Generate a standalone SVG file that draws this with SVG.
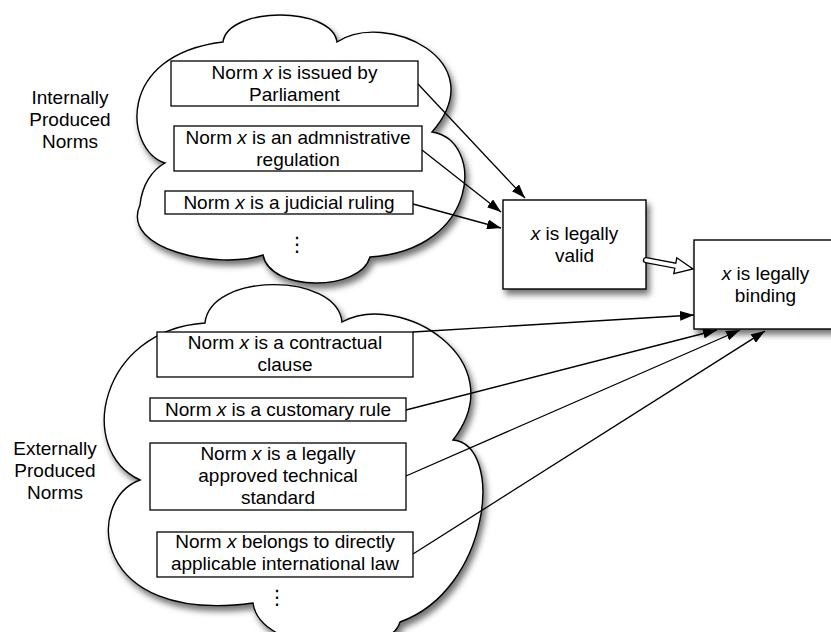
<svg xmlns="http://www.w3.org/2000/svg" width="831" height="632" viewBox="0 0 831 632">
<style>
text{font-family:"Liberation Sans",Arial,Helvetica,sans-serif;font-size:19px;fill:#000;text-anchor:middle}
.it{font-style:italic}
.cloud{fill:#fff;stroke:#000;stroke-width:1.4;filter:url(#sh)}
.box{fill:#fff;stroke:#000;stroke-width:1.3}
.big{fill:#fff;stroke:#000;stroke-width:1.4;filter:url(#sh)}
.conn{fill:none;stroke:#000;stroke-width:1.3;marker-end:url(#ah)}
.dots{font-family:"DejaVu Sans",sans-serif;font-size:20px}
</style>
<defs>
<filter id="sh" x="-20%" y="-20%" width="140%" height="140%">
<feDropShadow dx="3" dy="5" stdDeviation="3" flood-color="#000" flood-opacity="0.55"/>
</filter>
<marker id="ah" markerUnits="userSpaceOnUse" markerWidth="15" markerHeight="10" refX="14" refY="5" orient="auto">
<path d="M0,0 L14,5 L0,10 z" fill="#000"/>
</marker>
</defs>

<g id="cloud-internal">
<path class="cloud" d="M165,163 C125,150 115,55 223,42 C228,6 332,6 337,42 C385,10 495,60 432,132 C485,140 480,250 370,257 C360,292 270,292 263,255 C220,270 120,250 140,205 C142,185 152,170 165,163 Z"/>
<text x="297" y="251" class="dots">⋮</text>
</g>
<g id="cloud-external">
<path class="cloud" d="M205,323 C210,272 337,272 342,322 C400,290 515,360 453,440 C505,445 490,590 400,622 C390,660 260,655 253,603 C90,625 85,500 140,480 C75,450 100,330 205,323 Z"/>
<text x="277" y="604" class="dots">⋮</text>
</g>

<g id="label-internal">
<text x="70" y="104">Internally</text>
<text x="70" y="126">Produced</text>
<text x="70" y="148">Norms</text>
</g>
<g id="label-external">
<text x="55" y="455">Externally</text>
<text x="55" y="477">Produced</text>
<text x="55" y="499">Norms</text>
</g>

<g id="n-parliament">
<rect class="box" x="171" y="61" width="247" height="45"/>
<text x="294.5" y="79">Norm <tspan class="it">x</tspan> is issued by</text>
<text x="294.5" y="101">Parliament</text>
</g>
<g id="n-administrative">
<rect class="box" x="174" y="126" width="248" height="45"/>
<text x="298" y="144">Norm <tspan class="it">x</tspan> is an admnistrative</text>
<text x="298" y="166">regulation</text>
</g>
<g id="n-judicial">
<rect class="box" x="165" y="191" width="248" height="23"/>
<text x="289" y="209">Norm <tspan class="it">x</tspan> is a judicial ruling</text>
</g>

<g id="n-valid">
<rect class="big" x="503" y="200" width="143" height="89"/>
<text x="574.5" y="240"><tspan class="it">x</tspan> is legally</text>
<text x="574.5" y="262">valid</text>
</g>
<g id="n-binding">
<rect class="big" x="694" y="240" width="143" height="89"/>
<text x="765.5" y="280"><tspan class="it">x</tspan> is legally</text>
<text x="765.5" y="302">binding</text>
</g>

<g id="n-contractual">
<rect class="box" x="157" y="332" width="256" height="45"/>
<text x="285" y="349">Norm <tspan class="it">x</tspan> is a contractual</text>
<text x="285" y="371">clause</text>
</g>
<g id="n-customary">
<rect class="box" x="150" y="398" width="256" height="23"/>
<text x="278" y="416">Norm <tspan class="it">x</tspan> is a customary rule</text>
</g>
<g id="n-technical">
<rect class="box" x="150" y="443" width="256" height="67"/>
<text x="278" y="460">Norm <tspan class="it">x</tspan> is a legally</text>
<text x="278" y="482">approved technical</text>
<text x="278" y="504">standard</text>
</g>
<g id="n-international">
<rect class="box" x="157" y="532" width="256" height="45"/>
<text x="285" y="548">Norm <tspan class="it">x</tspan> belongs to directly</text>
<text x="285" y="570">applicable international law</text>
</g>

<g id="connectors">
<path class="conn" d="M418,84 L525,198"/>
<path class="conn" d="M422,150 L501,212"/>
<path class="conn" d="M413,204 L501,228"/>
<path d="M645.5,262.7 L674.8,268.2 L673.8,273.6 L693,269 L676.8,257.8 L675.8,263.2 L646.5,257.7 A2.5,2.5 0 0 0 645.5,262.7 Z" fill="#fff" stroke="#000" stroke-width="1.3" stroke-linejoin="miter"/>
<path class="conn" d="M413,332 L694,315"/>
<path class="conn" d="M406,410 L717,330"/>
<path class="conn" d="M406,476 L740,330"/>
<path class="conn" d="M413,554 L765,331"/>
</g>
</svg>
